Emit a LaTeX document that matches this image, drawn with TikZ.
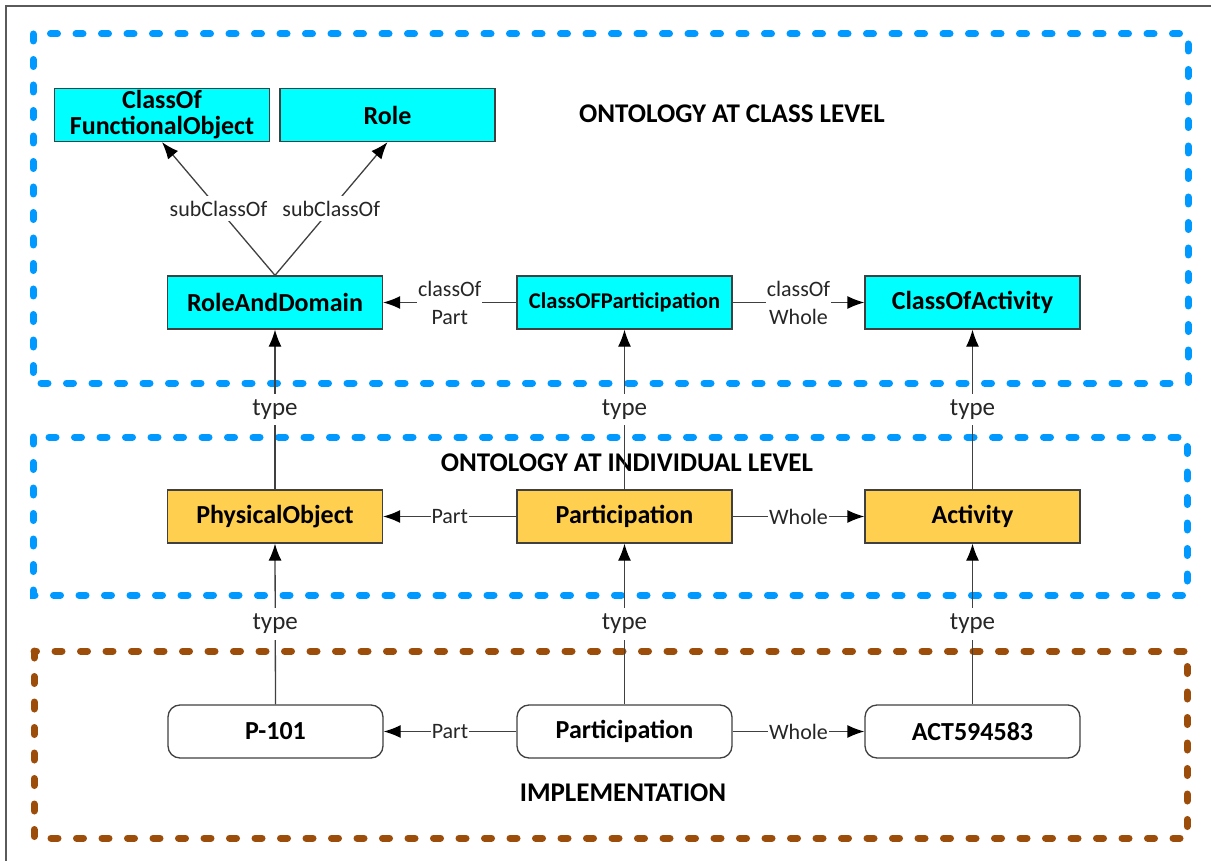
\documentclass[tikz,border=0pt]{standalone}
\usepackage{fontspec}
\setmainfont{Carlito}
\usetikzlibrary{arrows.meta}
\definecolor{dashblue}{RGB}{0,153,255}
\definecolor{dashbrown}{RGB}{156,77,10}
\definecolor{clsfill}{RGB}{0,255,255}
\definecolor{indfill}{RGB}{255,208,80}
\definecolor{edgegray}{RGB}{64,64,64}
\definecolor{framegray}{RGB}{90,90,90}
\begin{document}
\begin{tikzpicture}[x=1pt,y=-1pt,
  box/.style={draw=edgegray, line width=1.3pt, minimum width=215pt, minimum height=53pt, inner sep=0pt, text=black, align=center, font=\bfseries\fontsize{26}{26}\selectfont},
  clsbox/.style={box, fill=clsfill},
  indbox/.style={box, fill=indfill},
  impbox/.style={box, fill=white, rounded corners=12pt},
  levelframe/.style={line width=7pt, line cap=round, dash pattern=on 7pt off 18.5pt},
  heading/.style={text=black, font=\bfseries\fontsize{27}{28}\selectfont},
  rel/.style={draw=edgegray, line width=1.3pt, -{Latex[length=17pt,width=13pt,color=black]}},
  lbl/.style={fill=white, inner sep=1pt, text=black!85, align=center, font=\fontsize{22}{28}\selectfont},
  typelbl/.style={fill=white, inner xsep=2pt, inner ysep=6pt, text=black!85, font=\fontsize{25}{28}\selectfont},
]
\useasboundingbox (0,0) rectangle (1211,861);
% outer frame (only top and left sides visible)
\draw[framegray, line width=1.5pt] (6,861) -- (6,6) -- (1211,6);

% level frames
\draw[levelframe, dashblue] (33,34) rectangle (1188,383);
\draw[levelframe, dashblue] (33,437) rectangle (1187,595);
\draw[levelframe, dashbrown] (34,651) rectangle (1187,838);

% headings
\node[heading] (hclass) at (732,114) {ONTOLOGY AT CLASS LEVEL};
\node[heading] (hind) at (627,463) {ONTOLOGY AT INDIVIDUAL LEVEL};
\node[heading] (himp) at (623,793) {IMPLEMENTATION};

% class level
\node[clsbox] (cfo) at (162,115) {ClassOf\\FunctionalObject};
\node[clsbox] (role) at (387.5,115) {Role};
\node[clsbox] (rad) at (275,302.5) {RoleAndDomain};
\node[clsbox, font=\bfseries\fontsize{22.5}{24}\selectfont] (cop) at (624.5,302.5) {ClassOFParticipation};
\node[clsbox] (coa) at (972.5,302.5) {ClassOfActivity};

% individual level
\node[indbox] (po) at (275,516.5) {PhysicalObject};
\node[indbox] (par) at (624.5,516.5) {Participation};
\node[indbox] (act) at (972.5,516.5) {Activity};

% implementation
\node[impbox] (p101) at (275.5,731.5) {P-101};
\node[impbox] (ipar) at (624.5,731.5) {Participation};
\node[impbox] (act2) at (972.5,731.5) {ACT594583};

% connectors
\draw[rel] (rad.north) -- node[lbl, inner ysep=5pt] {subClassOf} (cfo.south);
\draw[rel] (rad.north) -- node[lbl, inner ysep=5pt] {subClassOf} (role.south);
\draw[rel] (cop.west) -- node[lbl] {classOf\\Part} (rad.east);
\draw[rel] (cop.east) -- node[lbl] {classOf\\Whole} (coa.west);

\draw[rel] (po.north) -- node[typelbl] {type} (rad.south);
\draw[rel] (par.north) -- node[typelbl] {type} (cop.south);
\draw[rel] (act.north) -- node[typelbl] {type} (coa.south);

\draw[rel] (par.west) -- node[lbl] {Part} (po.east);
\draw[rel] (par.east) -- node[lbl] {Whole} (act.west);

\draw[rel] (p101.north) -- node[typelbl] {type} (po.south);
\draw[rel] (ipar.north) -- node[typelbl] {type} (par.south);
\draw[rel] (act2.north) -- node[typelbl] {type} (act.south);

\draw[rel] (ipar.west) -- node[lbl] {Part} (p101.east);
\draw[rel] (ipar.east) -- node[lbl] {Whole} (act2.west);
\end{tikzpicture}
\end{document}
